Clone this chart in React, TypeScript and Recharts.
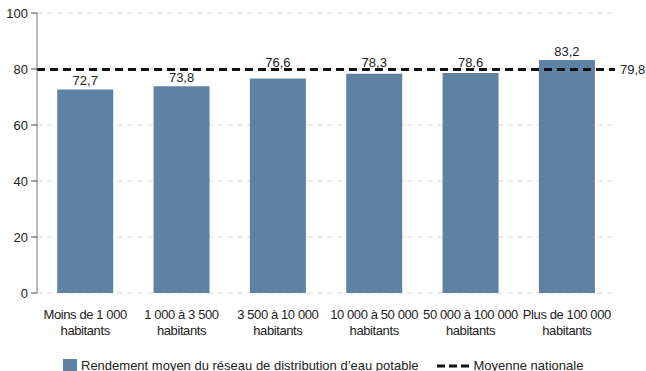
import React from 'react';
import {
  BarChart,
  Bar,
  XAxis,
  YAxis,
  CartesianGrid,
  ReferenceLine,
  LabelList,
  Legend,
} from 'recharts';

// Categories (two-line labels)
const categories = [
  'Moins de 1 000\nhabitants',
  '1 000 à 3 500\nhabitants',
  '3 500 à 10 000\nhabitants',
  '10 000 à 50 000\nhabitants',
  '50 000 à 100 000\nhabitants',
  'Plus de 100 000\nhabitants',
];

// Rendement moyen (%)
const yields = [72.7, 73.8, 76.6, 78.3, 78.6, 83.2];

const nationalAverage = 79.8;

const yTicks = [0, 20, 40, 60, 80, 100];

const BAR_COLOR = '#5f82a3';
const FONT = '"Liberation Sans", Arial, Helvetica, sans-serif';

const data = categories.map((name, i) => ({ name, value: yields[i] }));
const edgeTicks = categories.map((_, i) => i).concat(categories.length);

const fmt = (v: number) => v.toFixed(1).replace('.', ',');

const CategoryTick = (props: any) => {
  const { x, y, payload } = props;
  const lines = String(payload.value).split('\n');
  return (
    <text
      x={x}
      y={y}
      textAnchor="middle"
      fontSize={13}
      fill="#222"
      fontFamily={FONT}
      style={{ letterSpacing: '-0.4px' }}
    >
      {lines.map((l, i) => (
        <tspan key={i} x={x} dy={i === 0 ? 18 : 16}>
          {l}
        </tspan>
      ))}
    </text>
  );
};

// value label above the bar, lifted above the national average line when they would overlap
const ValueLabel = (props: any) => {
  const vb = props.viewBox && props.viewBox.height != null ? props.viewBox : props;
  const x = Number(vb.x);
  const y = Number(vb.y);
  const width = Number(vb.width);
  const height = Number(vb.height);
  const v = Number(props.value);
  const pxPerUnit = height / v;
  const lineY = y + height - nationalAverage * pxPerUnit;
  let baseline = y - 4;
  if (y > lineY && baseline - 10 < lineY + 1) baseline = lineY - 3;
  return (
    <text x={x + width / 2} y={baseline} textAnchor="middle" fontSize={13} fill="#222" fontFamily={FONT}>
      {fmt(v)}
    </text>
  );
};

const LegendContent = () => (
  <div
    style={{
      display: 'flex',
      alignItems: 'center',
      fontSize: 13,
      color: '#222',
      fontFamily: FONT,
      paddingLeft: 63,
      lineHeight: '14px',
    }}
  >
    <span style={{ width: 14, height: 14, background: BAR_COLOR, display: 'inline-block', marginRight: 4 }} />
    <span>Rendement moyen du réseau de distribution d’eau potable</span>
    <svg width={32} height={6} style={{ marginLeft: 18, marginRight: 5 }}>
      <line x1={0} y1={3} x2={32} y2={3} stroke="#111" strokeWidth={3} strokeDasharray="8 4" />
    </svg>
    <span>Moyenne nationale</span>
  </div>
);

const App = () => {
  return (
    <div style={{ position: 'absolute', left: 0, top: 0, fontFamily: FONT }}>
      <BarChart
        width={646}
        height={371}
        data={data}
        margin={{ top: 13, right: 31, left: 0, bottom: 0 }}
        barCategoryGap="21%"
      >
        <CartesianGrid vertical={false} stroke="#d9d9d9" strokeDasharray="6 4" />
        <XAxis
          xAxisId="edges"
          type="number"
          domain={[0, categories.length]}
          ticks={edgeTicks}
          tickFormatter={() => ''}
          height={0}
          axisLine={{ stroke: '#222' }}
          tickLine={{ stroke: '#222' }}
          tickSize={5}
          allowDataOverflow
        />
        <XAxis
          xAxisId="cat"
          dataKey="name"
          interval={0}
          axisLine={false}
          tickLine={false}
          tick={<CategoryTick />}
          height={66}
        />
        <YAxis
          domain={[0, 100]}
          ticks={yTicks}
          width={37}
          tickSize={6}
          tickMargin={3}
          axisLine={{ stroke: '#777' }}
          tickLine={{ stroke: '#444' }}
          tick={{ fontSize: 13, fill: '#222', fontFamily: FONT }}
        />
        <ReferenceLine
          y={nationalAverage}
          xAxisId="cat"
          stroke="#111"
          strokeWidth={3}
          strokeDasharray="8 5"
          label={{ value: fmt(nationalAverage), position: 'right', fontSize: 13, fill: '#222' }}
        />
        <Bar dataKey="value" xAxisId="cat" fill={BAR_COLOR} isAnimationActive={false}>
          <LabelList dataKey="value" content={<ValueLabel />} />
        </Bar>
        <Legend verticalAlign="bottom" align="left" height={12} content={<LegendContent />} />
      </BarChart>
    </div>
  );
};

export default App;
